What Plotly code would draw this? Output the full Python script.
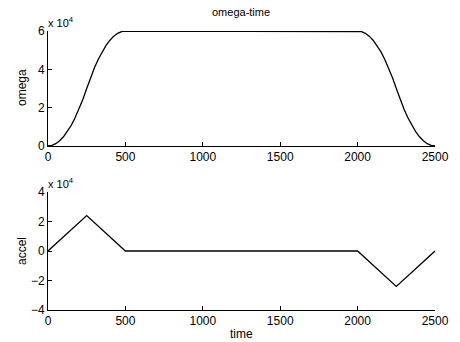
import plotly.graph_objects as go
from plotly.subplots import make_subplots

# ---- data ----
time_omega = [0, 25, 50, 75, 100, 125, 150, 175, 200, 225, 250, 275, 300, 325, 350,
              375, 400, 425, 450, 475, 500,
              2000, 2025, 2050, 2075, 2100, 2125, 2150, 2175, 2200, 2225, 2250,
              2275, 2300, 2325, 2350, 2375, 2400, 2425, 2450, 2475, 2500]
omega = [0, 300, 1200, 2700, 4800, 7500, 10800, 14700, 19200, 24300, 30000, 35700,
         40800, 45300, 49200, 52500, 55200, 57300, 58800, 59700, 60000,
         60000, 59700, 58800, 57300, 55200, 52500, 49200, 45300, 40800, 35700, 30000,
         24300, 19200, 14700, 10800, 7500, 4800, 2700, 1200, 300, 0]

time_accel = [0, 250, 500, 2000, 2250, 2500]
accel = [0, 24000, 0, 0, -24000, 0]

x_ticks = [0, 500, 1000, 1500, 2000, 2500]
omega_ticks = [0, 2, 4, 6]
accel_ticks = [-4, -2, 0, 2, 4]

W, H = 460, 342
FONT = "Liberation Sans, Arial, sans-serif"

fig = make_subplots(rows=2, cols=1)
fig.add_trace(go.Scatter(x=time_omega, y=[v / 1e4 for v in omega], mode="lines",
                         cliponaxis=False,
                         line=dict(color="black", width=1.3)),
              row=1, col=1)
fig.add_trace(go.Scatter(x=time_accel, y=[v / 1e4 for v in accel], mode="lines",
                         cliponaxis=False,
                         line=dict(color="black", width=1.3)),
              row=2, col=1)

def px_dom(top, bottom):
    return [1 - bottom / H, 1 - top / H]

axis_common = dict(showgrid=False, zeroline=False, showline=True, linecolor="black",
                   linewidth=1, ticks="inside", ticklen=4, tickcolor="black",
                   tickfont=dict(family=FONT, size=12, color="black"), mirror=False,
                   automargin=False)

fig.update_layout(
    width=W, height=H,
    margin=dict(l=48, r=25, t=0, b=0),
    paper_bgcolor="white", plot_bgcolor="white",
    showlegend=False,
    font=dict(family=FONT, size=12, color="black"),
    xaxis=dict(axis_common, range=[0, 2500], tickvals=x_ticks, domain=[0, 1]),
    yaxis=dict(axis_common, range=[0, 6], tickvals=omega_ticks, domain=px_dom(31, 146)),
    xaxis2=dict(axis_common, range=[0, 2500], tickvals=x_ticks, domain=[0, 1]),
    yaxis2=dict(axis_common, range=[-4, 4], tickvals=accel_ticks, domain=px_dom(192, 310)),
)

def ann(text, x, y, size=12, angle=0, xanchor="center", yanchor="middle"):
    fig.add_annotation(text=text, xref="paper", yref="paper",
                       x=(x - 48) / (W - 48 - 25), y=1 - y / H,
                       showarrow=False, font=dict(size=size), textangle=angle,
                       xanchor=xanchor, yanchor=yanchor)

ann("omega-time", 241, 12, size=11)
ann("omega", 22, 88, angle=-90)
ann("accel", 22, 251, angle=-90)
ann("time", 241, 334)
ann("x 10<sup>4</sup>", 46, 31, size=11, xanchor="left", yanchor="bottom")
ann("x 10<sup>4</sup>", 46, 192, size=11, xanchor="left", yanchor="bottom")

fig.write_html("out.html", config={"displayModeBar": False},
               post_script="document.body.style.margin='0';document.body.style.padding='0';")
